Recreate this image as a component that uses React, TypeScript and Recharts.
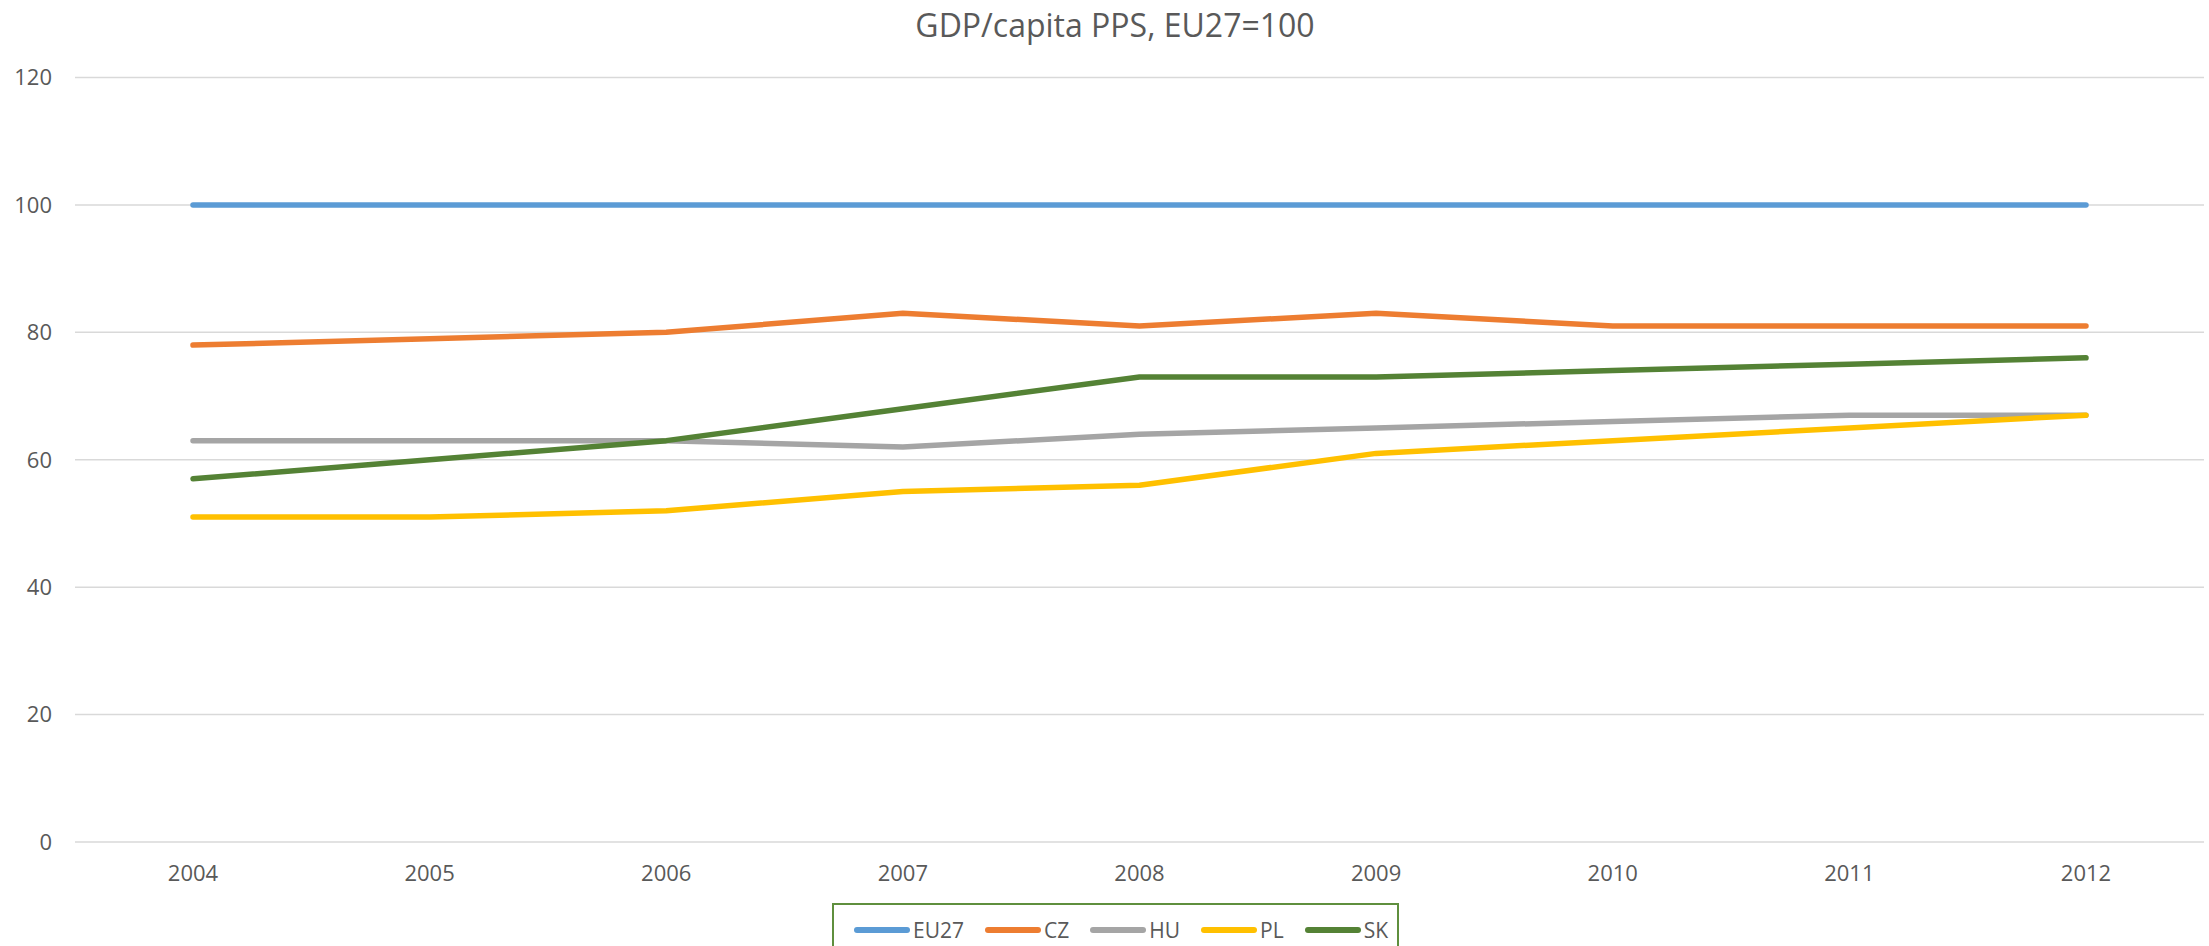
import { CartesianGrid, Line, LineChart, XAxis, YAxis } from "recharts";

const years = ["2004", "2005", "2006", "2007", "2008", "2009", "2010", "2011", "2012"];
const eu27 = [100, 100, 100, 100, 100, 100, 100, 100, 100];
const cz = [78, 79, 80, 83, 81, 83, 81, 81, 81];
const hu = [63, 63, 63, 62, 64, 65, 66, 67, 67];
const pl = [51, 51, 52, 55, 56, 61, 63, 65, 67];
const sk = [57, 60, 63, 68, 73, 73, 74, 75, 76];
const yTicks = [0, 20, 40, 60, 80, 100, 120];

const series = [
  { key: "EU27", values: eu27, color: "#5b9bd5" },
  { key: "CZ", values: cz, color: "#ed7d31" },
  { key: "HU", values: hu, color: "#a5a5a5" },
  { key: "PL", values: pl, color: "#ffc000" },
  { key: "SK", values: sk, color: "#548235" },
];

const data = years.map((year, i) => {
  const row: Record<string, string | number> = { year };
  series.forEach((s) => (row[s.key] = s.values[i]));
  return row;
});

const font = "'Open Sans', sans-serif";
const tickStyle = { fill: "#595959", fontSize: 22, fontFamily: font };

export default function App() {
  return (
    <div style={{ position: "relative", width: 2209, height: 946, background: "#fff", fontFamily: font }}>
      <style>{`body{margin:0}`}</style>
      <div
        style={{
          position: "absolute",
          top: 3,
          left: 0,
          width: 2230,
          textAlign: "center",
          fontSize: 32,
          lineHeight: "44px",
          color: "#595959",
        }}
      >
        GDP/capita PPS, EU27=100
      </div>
      <LineChart width={2209} height={946} data={data} margin={{ top: 77.5, right: 5, bottom: 74, left: 0 }}>
        <CartesianGrid vertical={false} stroke="#d9d9d9" strokeWidth={1.5} />
        <XAxis
          dataKey="year"
          height={30}
          axisLine={false}
          tickLine={false}
          tickSize={0}
          tickMargin={23}
          padding={{ left: 118, right: 118 }}
          tick={tickStyle}
          interval={0}
        />
        <YAxis
          width={75}
          domain={[0, 120]}
          ticks={yTicks}
          axisLine={false}
          tickLine={false}
          tickSize={0}
          tickMargin={23}
          tick={tickStyle}
        />
        {series.map((s) => (
          <Line
            key={s.key}
            type="linear"
            dataKey={s.key}
            stroke={s.color}
            strokeWidth={5.5}
            strokeLinecap="round"
            strokeLinejoin="round"
            dot={false}
            activeDot={false}
            isAnimationActive={false}
          />
        ))}
      </LineChart>
      <div
        style={{
          position: "absolute",
          left: 832,
          top: 903,
          width: 567,
          height: 60,
          boxSizing: "border-box",
          border: "2px solid #5f8f3e",
          display: "flex",
          alignItems: "flex-start",
          paddingTop: 10,
          paddingLeft: 20,
          gap: 21,
          fontSize: 21,
          color: "#595959",
        }}
      >
        {series.map((s) => (
          <div key={s.key} style={{ display: "flex", alignItems: "center", height: 30 }}>
            <span
              style={{
                display: "inline-block",
                width: 56,
                height: 6,
                borderRadius: 3,
                background: s.color,
                marginRight: 3,
              }}
            />
            <span style={{ lineHeight: "30px" }}>{s.key}</span>
          </div>
        ))}
      </div>
    </div>
  );
}
